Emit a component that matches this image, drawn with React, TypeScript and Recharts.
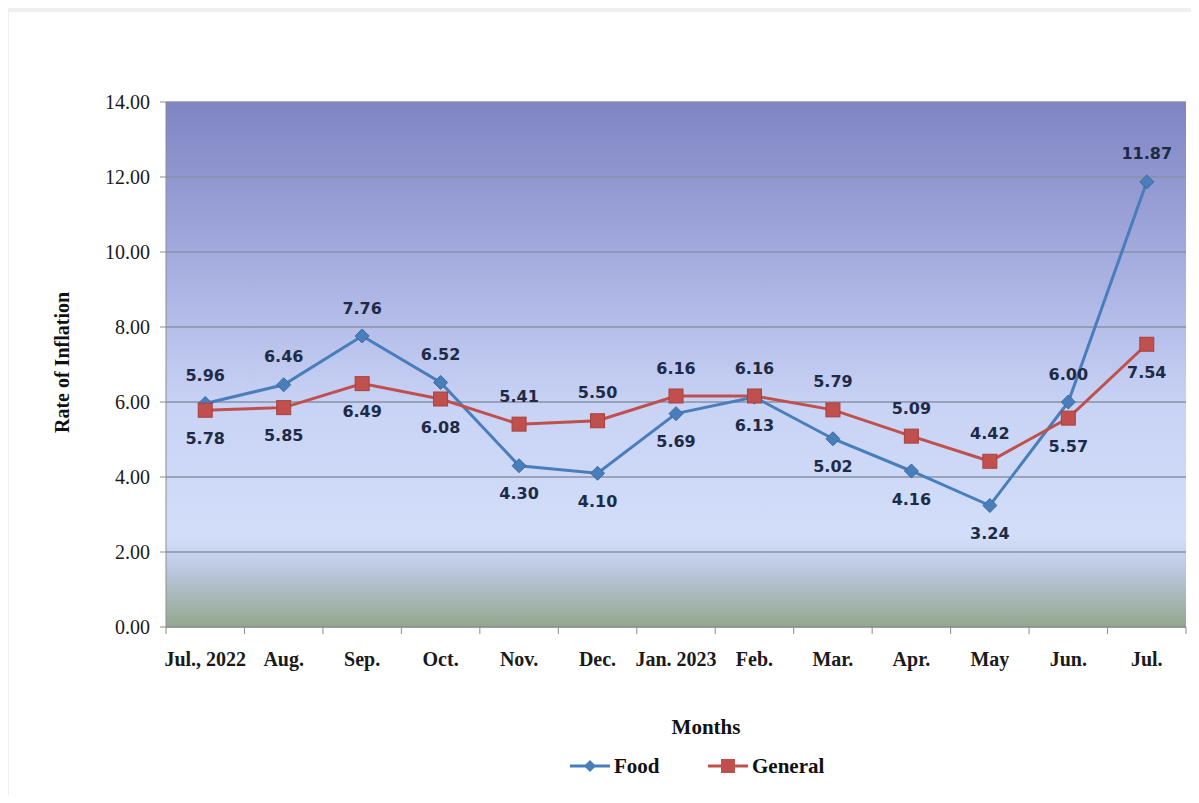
import { LineChart, Line, XAxis, YAxis, CartesianGrid, Legend, Label } from "recharts";

const months = [
  "Jul., 2022",
  "Aug.",
  "Sep.",
  "Oct.",
  "Nov.",
  "Dec.",
  "Jan. 2023",
  "Feb.",
  "Mar.",
  "Apr.",
  "May",
  "Jun.",
  "Jul.",
];
const food = [5.96, 6.46, 7.76, 6.52, 4.3, 4.1, 5.69, 6.13, 5.02, 4.16, 3.24, 6.0, 11.87];
const general = [5.78, 5.85, 6.49, 6.08, 5.41, 5.5, 6.16, 6.16, 5.79, 5.09, 4.42, 5.57, 7.54];
const yTicks = [0, 2, 4, 6, 8, 10, 12, 14];

const data = months.map((month, i) => ({ month, food: food[i], general: general[i] }));

const W = 1199;
const H = 803;
const margin = { top: 102, right: 13, left: 96, bottom: 136 };
const Y_W = 70;
const X_H = 40;
const PLOT_W = W - margin.left - margin.right - Y_W;
const BAND = PLOT_W / months.length;

const FOOD = "#4a7ebb";
const GENERAL = "#c0504d";
const SERIF = "'Liberation Serif', 'Times New Roman', serif";
const LABEL_FONT = "'DejaVu Sans', Verdana, sans-serif";

function FoodDot({ cx, cy, index }: any) {
  if (cx == null || cy == null) return null;
  return (
    <polygon
      key={`fd-${index}`}
      points={`${cx},${cy - 7} ${cx + 7},${cy} ${cx},${cy + 7} ${cx - 7},${cy}`}
      fill={FOOD}
      stroke="#3a6aa3"
      strokeWidth={1}
    />
  );
}

function GeneralDot({ cx, cy, index }: any) {
  if (cx == null || cy == null) return null;
  return (
    <rect
      key={`gd-${index}`}
      x={cx - 7}
      y={cy - 7}
      width={14}
      height={14}
      fill={GENERAL}
      stroke="#a8403d"
      strokeWidth={1}
    />
  );
}

function makeLabel(own: number[], other: number[]) {
  return ({ x, y, index }: any) => {
    if (x == null || y == null) return null;
    const above = own[index] >= other[index];
    return (
      <text
        key={`lb-${index}`}
        x={x}
        y={y + (above ? -28 : 28)}
        textAnchor="middle"
        dominantBaseline="central"
        fontFamily={LABEL_FONT}
        fontWeight="bold"
        fontSize={16}
        fill="#1e2b47"
      >
        {own[index].toFixed(2)}
      </text>
    );
  };
}

function MonthTick({ x, y, payload, index }: any) {
  const last = index === months.length - 1;
  return (
    <g>
      <line x1={x - BAND / 2} x2={x - BAND / 2} y1={y} y2={y + 7} stroke="#8c8c8c" />
      {last && <line x1={x + BAND / 2} x2={x + BAND / 2} y1={y} y2={y + 7} stroke="#8c8c8c" />}
      <text
        x={x}
        y={y + 39}
        textAnchor="middle"
        fontFamily={SERIF}
        fontWeight="bold"
        fontSize={20}
        fill="#1a1a1a"
      >
        {payload.value}
      </text>
    </g>
  );
}

function LegendContent() {
  return (
    <svg width={280} height={32}>
      <line x1={10} x2={50} y1={16} y2={16} stroke={FOOD} strokeWidth={3} />
      <polygon points="30,10 36,16 30,22 24,16" fill={FOOD} />
      <text x={54} y={23} fontFamily={SERIF} fontWeight="bold" fontSize={21} fill="#111">
        Food
      </text>
      <line x1={148} x2={188} y1={16} y2={16} stroke={GENERAL} strokeWidth={3} />
      <rect x={161} y={9} width={14} height={14} fill={GENERAL} />
      <text x={192} y={23} fontFamily={SERIF} fontWeight="bold" fontSize={21} fill="#111">
        General
      </text>
    </svg>
  );
}

export default function App() {
  return (
    <div style={{ position: "relative", width: W, height: H, margin: -8, background: "#eef0ee" }}>
      <div
        style={{ position: "absolute", left: 9, top: 12, width: 1184, height: 788, background: "#ffffff" }}
      />
      <div style={{ position: "absolute", left: 0, top: 0 }}>
        <LineChart width={W} height={H} data={data} margin={margin}>
          <defs>
            <linearGradient id="plotBg" x1="0" y1="0" x2="0" y2="1">
              <stop offset="0%" stopColor="#7e84c2" />
              <stop offset="30%" stopColor="#a5acdf" />
              <stop offset="58%" stopColor="#c9d3f5" />
              <stop offset="83%" stopColor="#d2def9" />
              <stop offset="89%" stopColor="#bcc8e0" />
              <stop offset="100%" stopColor="#93a78e" />
            </linearGradient>
          </defs>
          <CartesianGrid
            vertical={false}
            stroke="#8890a8"
            strokeWidth={1.5}
            fill="url(#plotBg)"
            fillOpacity={1}
          />
          <XAxis
            dataKey="month"
            height={X_H}
            interval={0}
            padding={{ left: BAND / 2, right: BAND / 2 }}
            tickLine={false}
            tickSize={0}
            tickMargin={0}
            axisLine={{ stroke: "#8c8c8c" }}
            tick={<MonthTick />}
          >
            <Label
              content={({ viewBox }: any) => (
                <text
                  x={viewBox.x + viewBox.width / 2 + 30}
                  y={viewBox.y + viewBox.height + 67}
                  textAnchor="middle"
                  fontFamily={SERIF}
                  fontWeight="bold"
                  fontSize={21}
                  fill="#111"
                >
                  Months
                </text>
              )}
            />
          </XAxis>
          <YAxis
            width={Y_W}
            domain={[0, 14]}
            ticks={yTicks}
            interval={0}
            tickFormatter={(v: number) => v.toFixed(2)}
            tickSize={6}
            tickMargin={10}
            axisLine={{ stroke: "#8c8c8c" }}
            tickLine={{ stroke: "#8c8c8c" }}
            tick={{ fontFamily: SERIF, fontSize: 20, fill: "#1a1a1a" }}
          >
            <Label
              content={({ viewBox }: any) => {
                const cx = viewBox.x - 34;
                const cy = viewBox.y + viewBox.height / 2 - 2;
                return (
                  <text
                    x={cx}
                    y={cy}
                    transform={`rotate(-90, ${cx}, ${cy})`}
                    textAnchor="middle"
                    dominantBaseline="central"
                    fontFamily={SERIF}
                    fontWeight="bold"
                    fontSize={20}
                    fill="#111"
                  >
                    Rate of Inflation
                  </text>
                );
              }}
            />
          </YAxis>
          <Legend
            layout="horizontal"
            verticalAlign="middle"
            align="center"
            wrapperStyle={{ top: 750, left: 560, width: 280, height: 32 }}
            content={<LegendContent />}
          />
          <Line
            type="linear"
            dataKey="food"
            stroke={FOOD}
            strokeWidth={3}
            dot={FoodDot}
            activeDot={false}
            label={makeLabel(food, general)}
            isAnimationActive={false}
          />
          <Line
            type="linear"
            dataKey="general"
            stroke={GENERAL}
            strokeWidth={3}
            dot={GeneralDot}
            activeDot={false}
            label={makeLabel(general, food)}
            isAnimationActive={false}
          />
        </LineChart>
      </div>
    </div>
  );
}
